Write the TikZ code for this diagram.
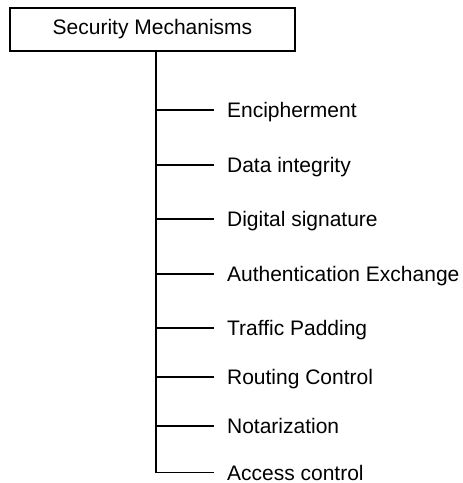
\documentclass[tikz,border=0pt]{standalone}
\usepackage{fontspec}
\setmainfont{Liberation Sans}
\usetikzlibrary{positioning, calc}

\begin{document}
\begin{tikzpicture}[x=1pt, y=-1pt, line width=1.2pt,
    font=\fontsize{21}{25}\selectfont,
    mechRoot/.style={draw, minimum width=285pt, minimum height=43pt, inner sep=0pt},
    mechItem/.style={anchor=west, inner xsep=12.5pt, inner ysep=0pt,
                     text height=15pt, text depth=0pt}]
    \useasboundingbox (0,0) rectangle (463,483);
    \node[mechRoot] (root) at (152.5,29.5) {Security Mechanisms};
    \coordinate (trunk) at ([xshift=3.5pt]root.south);
    % mechanisms
    \node[mechItem] (enc) at (214,110) {Encipherment};
    \node[mechItem] (integ) at (214,165) {Data integrity};
    \node[mechItem] (sign) at (214,219) {Digital signature};
    \node[mechItem] (auth) at (214,274) {Authentication Exchange};
    \node[mechItem] (pad) at (214,328) {Traffic Padding};
    \node[mechItem] (route) at (214,377) {Routing Control};
    \node[mechItem] (notar) at (214,426) {Notarization};
    \node[mechItem] (access) at (214,472.5) {Access control};
    % tree lines
    \draw (trunk) |- (access.west);
    \draw (enc.west -| trunk) -- (enc.west);
    \draw (integ.west -| trunk) -- (integ.west);
    \draw (sign.west -| trunk) -- (sign.west);
    \draw (auth.west -| trunk) -- (auth.west);
    \draw (pad.west -| trunk) -- (pad.west);
    \draw (route.west -| trunk) -- (route.west);
    \draw (notar.west -| trunk) -- (notar.west);
\end{tikzpicture}
\end{document}
